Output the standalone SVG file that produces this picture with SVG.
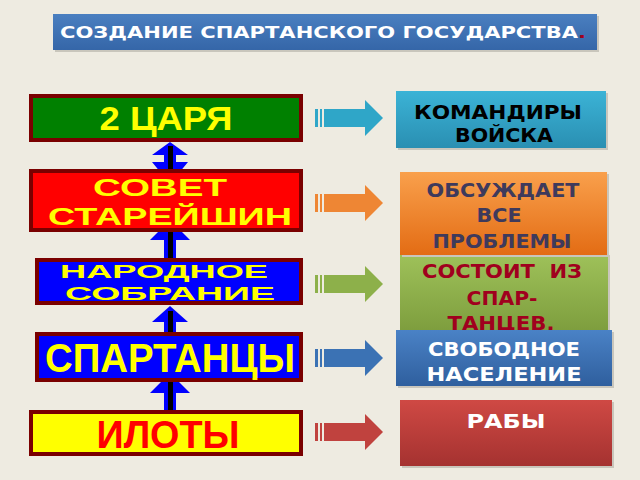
<svg xmlns="http://www.w3.org/2000/svg" width="640" height="480" viewBox="0 0 640 480">
<defs>
<linearGradient id="gTitle" x1="0" y1="0" x2="0" y2="1"><stop offset="0" stop-color="#4a7fc0"/><stop offset="1" stop-color="#3566a8"/></linearGradient>
<linearGradient id="gTeal" x1="0" y1="0" x2="0" y2="1"><stop offset="0" stop-color="#3bb3d6"/><stop offset="1" stop-color="#2a8fb2"/></linearGradient>
<linearGradient id="gOrange" x1="0" y1="0" x2="0" y2="1"><stop offset="0" stop-color="#f9a04c"/><stop offset="1" stop-color="#e36c14"/></linearGradient>
<linearGradient id="gGreen" x1="0" y1="0" x2="0" y2="1"><stop offset="0" stop-color="#9fc25a"/><stop offset="1" stop-color="#7e9e3e"/></linearGradient>
<linearGradient id="gBlue" x1="0" y1="0" x2="0" y2="1"><stop offset="0" stop-color="#4a82c6"/><stop offset="1" stop-color="#2f5f9e"/></linearGradient>
<linearGradient id="gRed" x1="0" y1="0" x2="0" y2="1"><stop offset="0" stop-color="#cf4944"/><stop offset="1" stop-color="#a53230"/></linearGradient>
<path id="rarrow" d="M0,-9 h3 v18 h-3 z M5,-9 h2 v18 h-2 z M9,-9 H50 V-18 L68,0 L50,18 V9 H9 z"/>
</defs>
<style>
.lbox{stroke:#7a0000;stroke-width:4}
.ltxt{font-family:"Liberation Sans",Arial,sans-serif;font-weight:bold;text-anchor:middle}
.rtxt{font-family:"DejaVu Sans","Open Sans",sans-serif;font-weight:bold;font-size:20px;text-anchor:middle}
.shadow{fill:#c9c6bc}
.vs{fill:#0000ff}
.vl{fill:#000}
</style>
<rect width="640" height="480" fill="#eeebe1"/>

<g id="title">
<rect x="55" y="16" width="544" height="36" class="shadow"/>
<rect x="53" y="14" width="544" height="36" fill="url(#gTitle)"/>
<text x="323" y="38" font-family="'DejaVu Sans','Open Sans',sans-serif" font-weight="bold" font-size="16.5" fill="#fff" text-anchor="middle" textLength="526" lengthAdjust="spacingAndGlyphs">СОЗДАНИЕ СПАРТАНСКОГО ГОСУДАРСТВА<tspan fill="#a00020">.</tspan></text>
</g>

<g id="connectors">
<polygon class="vs" points="170,142 188,155 176,155 176,162 188,162 170,184 152,162 164,162 164,155 152,155"/>
<rect class="vl" x="168" y="146" width="5" height="26"/>
<polygon class="vs" points="170,220 190,240 176,240 176,260 164,260 164,240 150,240"/>
<rect class="vl" x="168" y="228" width="5" height="32"/>
<polygon class="vs" points="170,306 188,322 176,322 176,334 164,334 164,322 152,322"/>
<rect class="vl" x="168" y="311" width="5" height="23"/>
<polygon class="vs" points="170,373 190,393 176,393 176,412 164,412 164,393 150,393"/>
<rect class="vl" x="168" y="380" width="5" height="32"/>
<use href="#rarrow" x="315" y="118" fill="#2fa6c8"/>
<use href="#rarrow" x="315" y="203" fill="#ee8634"/>
<use href="#rarrow" x="315" y="284" fill="#8db04a"/>
<use href="#rarrow" x="315" y="358" fill="#3b72b4"/>
<use href="#rarrow" x="315" y="432" fill="#c0423e"/>
</g>

<g id="n-tsarya">
<rect class="lbox" x="31" y="96" width="270" height="44" fill="#008000"/>
<text class="ltxt" x="166" y="130" font-size="33" fill="#ffff00" textLength="133" lengthAdjust="spacingAndGlyphs">2 ЦАРЯ</text>
</g>
<g id="n-sovet">
<rect class="lbox" x="31" y="171" width="270" height="59" fill="#ff0000"/>
<text class="ltxt" x="160" y="196" font-size="23" fill="#ffff00" textLength="134" lengthAdjust="spacingAndGlyphs">СОВЕТ</text>
<text class="ltxt" x="170" y="225" font-size="24" fill="#ffff00" textLength="244" lengthAdjust="spacingAndGlyphs">СТАРЕЙШИН</text>
</g>
<g id="n-narod">
<rect class="lbox" x="37" y="260" width="264" height="43" fill="#0000ff"/>
<text class="ltxt" x="164" y="278" font-size="18" fill="#ffff00" textLength="208" lengthAdjust="spacingAndGlyphs">НАРОДНОЕ</text>
<text class="ltxt" x="170" y="300" font-size="18" fill="#ffff00" textLength="210" lengthAdjust="spacingAndGlyphs">СОБРАНИЕ</text>
</g>
<g id="n-spartans">
<rect class="lbox" x="37" y="334" width="264" height="46" fill="#0000ff"/>
<text class="ltxt" x="170" y="372" font-size="41" fill="#ffff00" textLength="250" lengthAdjust="spacingAndGlyphs">СПАРТАНЦЫ</text>
</g>
<g id="n-iloty">
<rect class="lbox" x="31" y="412" width="270" height="42" fill="#ffff00"/>
<text class="ltxt" x="168" y="448" font-size="38" fill="#ff0000" textLength="143" lengthAdjust="spacingAndGlyphs">ИЛОТЫ</text>
</g>

<g id="r-komandiry">
<rect x="398" y="93" width="210" height="57" class="shadow"/>
<rect x="396" y="91" width="210" height="57" fill="url(#gTeal)"/>
<text class="rtxt" x="498" y="119" fill="#000" textLength="168" lengthAdjust="spacingAndGlyphs">КОМАНДИРЫ</text>
<text class="rtxt" x="504" y="142" fill="#000" textLength="98" lengthAdjust="spacingAndGlyphs">ВОЙСКА</text>
</g>
<g id="r-sostoit">
<rect x="402" y="255" width="208" height="77" class="shadow"/>
<rect x="400" y="253" width="208" height="77" fill="url(#gGreen)"/>
<text class="rtxt" x="502" y="278" fill="#a0001e" textLength="160" lengthAdjust="spacingAndGlyphs" xml:space="preserve">СОСТОИТ  ИЗ</text>
<text class="rtxt" x="502" y="305" fill="#a0001e" textLength="71" lengthAdjust="spacingAndGlyphs">СПАР-</text>
<text class="rtxt" x="501" y="330" fill="#a0001e" textLength="107" lengthAdjust="spacingAndGlyphs">ТАНЦЕВ,</text>
</g>
<g id="r-obsuzhdaet">
<rect x="402" y="174" width="207" height="83" class="shadow"/>
<rect x="400" y="172" width="207" height="83" fill="url(#gOrange)"/>
<text class="rtxt" x="503" y="197" fill="#3e3a5c" textLength="153" lengthAdjust="spacingAndGlyphs">ОБСУЖДАЕТ</text>
<text class="rtxt" x="499" y="222" fill="#3e3a5c" textLength="45" lengthAdjust="spacingAndGlyphs">ВСЕ</text>
<text class="rtxt" x="502" y="248" fill="#3e3a5c" textLength="139" lengthAdjust="spacingAndGlyphs">ПРОБЛЕМЫ</text>
</g>
<g id="r-svobodnoe">
<rect x="398" y="332" width="216" height="56" class="shadow"/>
<rect x="396" y="330" width="216" height="56" fill="url(#gBlue)"/>
<text class="rtxt" x="504" y="356" fill="#fff" textLength="152" lengthAdjust="spacingAndGlyphs">СВОБОДНОЕ</text>
<text class="rtxt" x="504" y="381" fill="#fff" textLength="155" lengthAdjust="spacingAndGlyphs">НАСЕЛЕНИЕ</text>
</g>
<g id="r-raby">
<rect x="402" y="402" width="212" height="66" class="shadow"/>
<rect x="400" y="400" width="212" height="66" fill="url(#gRed)"/>
<text class="rtxt" x="506" y="428" fill="#fff" textLength="79" lengthAdjust="spacingAndGlyphs">РАБЫ</text>
</g>
</svg>
